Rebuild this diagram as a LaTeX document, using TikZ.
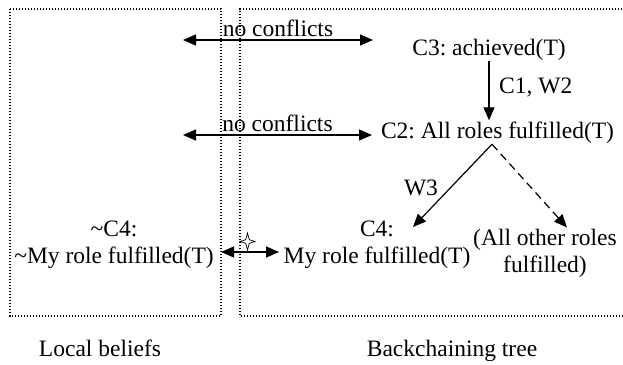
\documentclass[tikz,border=0pt]{standalone}
\usepackage{fontspec}
\setmainfont{Liberation Serif}
\usetikzlibrary{arrows.meta,shapes.geometric,calc}
\begin{document}
\frenchspacing
\begin{tikzpicture}[x=1pt,y=-1pt,
  lbl/.style={font=\fontsize{23.5}{27}\selectfont\frenchspacing, inner sep=1pt, align=center},
  conn/.style={line width=1.2pt, -{Triangle[length=13pt,width=11pt]}},
  bothconn/.style={line width=1.2pt, {Triangle[length=13pt,width=11pt]}-{Triangle[length=13pt,width=11pt]}},
  dotbox/.style={line width=1.3pt, dash pattern=on 1.3pt off 1.7pt},
  starmark/.style={draw, line width=0.7pt, fill=white, line join=miter}]
\useasboundingbox (0,0) rectangle (623,364);
\draw[dotbox] (10,9) rectangle (221,316);
\draw[dotbox] (640,9) -- (240,9) -- (240,316) -- (640,316);

\node[lbl, anchor=base] (C3) at (489,55) {C3: achieved(T)};
\node[lbl, anchor=base] (C2) at (497.5,138) {C2: All roles fulfilled(T)};
\node[lbl, anchor=base] (C4) at (377,263) {C4:\\My role fulfilled(T)};
\node[lbl, anchor=base] (Oth) at (545,272) {(All other roles\\fulfilled)};
\node[lbl, anchor=base] (NC4) at (114,263) {\textasciitilde C4:\\\textasciitilde My role fulfilled(T)};
\node[lbl, anchor=base] (LB) at (100,356) {Local beliefs};
\node[lbl, anchor=base] (BT) at (452,356) {Backchaining tree};
\node[lbl, anchor=base] (W3) at (421,195) {W3};
\node[lbl, anchor=base west] (CW) at (498,93) {C1, W2};

\coordinate (ncAl) at (183,40);
\coordinate (ncAr) at (373,40);
\coordinate (ncBl) at (183,135);
\coordinate (ncBr) at (372,135);
\draw[bothconn] (ncAl) -- node[lbl, above=2pt] (NCA) {no conflicts} (ncAr);
\draw[bothconn] (ncBl) -- node[lbl, above=2pt] (NCB) {no conflicts} (ncBr);

\draw[conn] (C3.south) -- (C3.south |- C2.north);
\coordinate (apex) at ([xshift=-5.5pt]C2.south);
\draw[conn] (apex) -- (413,227);
\draw[conn, dash pattern=on 8pt off 5pt] (apex) -- ([xshift=22pt]Oth.north);

\coordinate (sl) at (221,252);
\coordinate (sr) at (279,252);
\draw[bothconn] (sl) -- (sr);
\draw[starmark, shift={(247.5,241.5)}] (0,-8.5) -- (1.8,-1.8) -- (7.5,0) -- (1.8,1.8) -- (0,8.5) -- (-1.8,1.8) -- (-7.5,0) -- (-1.8,-1.8) -- cycle;
\end{tikzpicture}
\end{document}
